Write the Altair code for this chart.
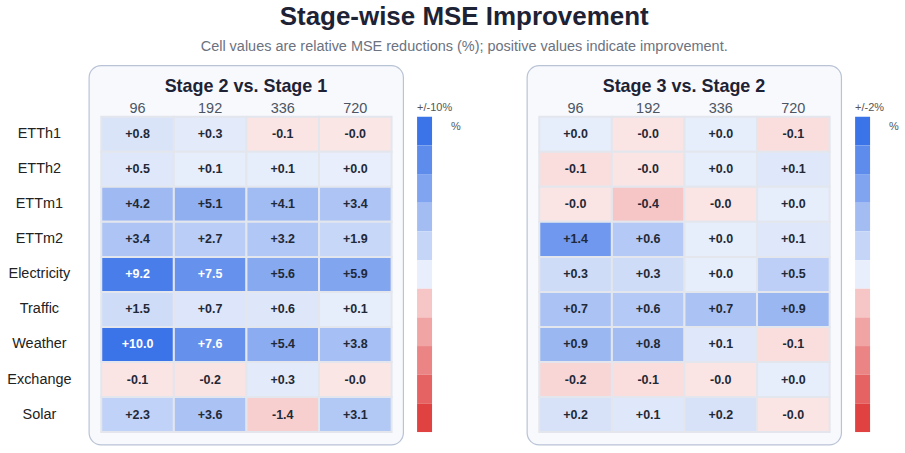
import altair as alt
import pandas as pd

datasets = ["ETTh1", "ETTh2", "ETTm1", "ETTm2", "Electricity", "Traffic", "Weather", "Exchange", "Solar"]
horizons = ["96", "192", "336", "720"]

# relative MSE reductions (%), rows = datasets, columns = horizons
stage2_vs_stage1 = [
    [0.8, 0.3, -0.1, -0.02],
    [0.5, 0.1, 0.1, 0.02],
    [4.2, 5.1, 4.1, 3.4],
    [3.4, 2.7, 3.2, 1.9],
    [9.2, 7.5, 5.6, 5.9],
    [1.5, 0.7, 0.6, 0.1],
    [10.0, 7.6, 5.4, 3.8],
    [-0.1, -0.2, 0.3, -0.02],
    [2.3, 3.6, -1.4, 3.1],
]
stage3_vs_stage2 = [
    [0.02, -0.02, 0.02, -0.1],
    [-0.1, -0.02, 0.02, 0.1],
    [-0.02, -0.4, -0.02, 0.02],
    [1.4, 0.6, 0.02, 0.1],
    [0.3, 0.3, 0.02, 0.5],
    [0.7, 0.6, 0.7, 0.9],
    [0.9, 0.8, 0.1, -0.1],
    [-0.2, -0.1, -0.02, 0.02],
    [0.2, 0.1, 0.2, -0.02],
]
panel_titles = ["Stage 2 vs. Stage 1", "Stage 3 vs. Stage 2"]
color_limits = [10, 2]
legend_titles = ["+/-10%", "+/-2%"]
legend_steps = [1.0, 0.8, 0.6, 0.4, 0.2, 0.0, -0.2, -0.4, -0.6, -0.8, -1.0]

FONT = "Liberation Sans"
cscale = alt.Scale(domain=[-1, -0.0001, 0, 1],
                   range=["#e04242", "#fbe6e6", "#e8eefb", "#3b73e8"],
                   interpolate="rgb")


def make_df(values, limit):
    rows = []
    for i, d in enumerate(datasets):
        for j, h in enumerate(horizons):
            v = values[i][j]
            rows.append({"dataset": d, "horizon": h, "value": v,
                         "n": v / limit, "label": f"{v:+.1f}"})
    return pd.DataFrame(rows)


def panel(values, limit, title, show_rows):
    df = make_df(values, limit)
    yaxis = alt.Axis(orient="left", domain=False, ticks=False, tickSize=0,
                     labelPadding=50, labelAlign="center", labelFontSize=14.5,
                     labelColor="#222222", labelFont=FONT, title=None) if show_rows else None
    base = alt.Chart(df).encode(
        x=alt.X("horizon:N", sort=horizons,
                scale=alt.Scale(paddingInner=0, paddingOuter=0.165, align=0.52),
                axis=alt.Axis(orient="top", offset=-51.5, domain=False, ticks=False,
                              tickSize=0, labelPadding=3.8, labelBaseline="alphabetic",
                              labelFontSize=14.5, labelColor="#4b5563", labelFont=FONT,
                              labelAngle=0, title=None)),
        y=alt.Y("dataset:N", sort=datasets,
                scale=alt.Scale(paddingInner=0, paddingOuter=0.911, align=0.805),
                axis=yaxis),
    )
    rect = base.mark_rect(stroke="#e3e6ed", strokeWidth=2).encode(
        color=alt.Color("n:Q", scale=cscale, legend=None))
    text = base.mark_text(fontSize=12.5, fontWeight="bold", font=FONT).encode(
        text="label:N",
        color=alt.condition("datum.n > 0.72", alt.value("#ffffff"), alt.value("#1f2937")))
    return alt.layer(rect, text).properties(
        width=315, height=380,
        title=alt.TitleParams(text=title, fontSize=18, fontWeight="bold", color="#1e2235",
                              font=FONT, anchor="middle", baseline="alphabetic", offset=-45),
        view=alt.ViewBackground(fill="#f8f9fc", stroke="#b9c3d6", strokeWidth=1.2,
                                cornerRadius=12),
    )


def legend(ltitle):
    n = len(legend_steps)
    ldf = pd.DataFrame({"step": legend_steps, "k": ["bar"] * n,
                        "i0": list(range(n)), "i1": [i + 1 for i in range(n)]})
    return alt.Chart(ldf).mark_rect().encode(
        x=alt.X("k:N", scale=alt.Scale(paddingInner=0, paddingOuter=0),
                axis=alt.Axis(orient="top", offset=-51.5, domain=False, ticks=False, tickSize=0,
                              labelPadding=6.5, labelBaseline="alphabetic", labelAlign="left",
                              labelOffset=-7.5, labelExpr=f"'{ltitle}'", labelFontSize=11,
                              labelColor="#555555", labelFont=FONT, labelAngle=0, title=None)),
        y=alt.Y("i0:Q", scale=alt.Scale(domain=[-1.793, 11.435], reverse=True, nice=False, zero=False),
                axis=alt.Axis(orient="right", values=[0.5], labelExpr="'%'", domain=False,
                              ticks=False, tickSize=0, labelPadding=18.5, labelOffset=-5,
                              labelFontSize=11, labelColor="#555555", labelFont=FONT,
                              grid=False, title=None)),
        y2="i1:Q",
        color=alt.Color("step:Q", scale=cscale, legend=None),
    ).properties(width=15, height=380, view=alt.ViewBackground(strokeWidth=0))


spacer = alt.Chart(pd.DataFrame({"s": [0]})).mark_point(opacity=0).encode(
    x=alt.value(0), y=alt.value(0)
).properties(width=67, height=380, view=alt.ViewBackground(strokeWidth=0))

left = panel(stage2_vs_stage1, color_limits[0], panel_titles[0], True)
right = panel(stage3_vs_stage2, color_limits[1], panel_titles[1], False)
leg_left = legend(legend_titles[0])
leg_right = legend(legend_titles[1])

chart = alt.hconcat(left, leg_left, spacer, right, leg_right, spacing=14, bounds="flush").properties(
    title=alt.TitleParams(
        text="Stage-wise MSE Improvement",
        subtitle="Cell values are relative MSE reductions (%); positive values indicate improvement.",
        fontSize=26, fontWeight="bold", color="#1e2235", font=FONT,
        subtitleFontSize=14.5, subtitleColor="#6b7280", subtitleFont=FONT,
        subtitlePadding=10.5, offset=9, anchor="middle", dx=12),
    padding={"left": 6, "top": 3, "right": 6, "bottom": 6},
).configure_view(strokeWidth=0)

chart.save("out.html", embed_options={"renderer": "svg", "actions": False})
